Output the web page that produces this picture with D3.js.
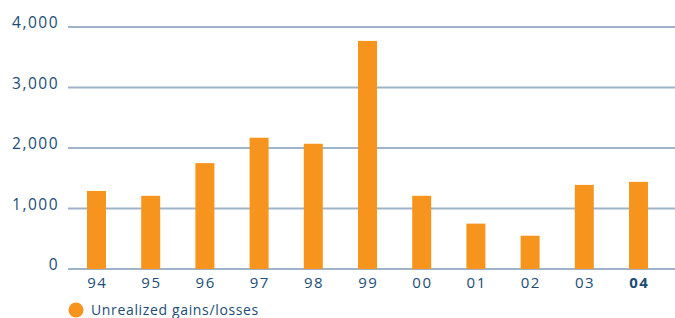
<!DOCTYPE html>
<html>
<head>
<meta charset="utf-8">
<script src="https://cdn.jsdelivr.net/npm/d3@7"></script>
<style>
  html, body { margin: 0; padding: 0; background: #fff; }
  svg { display: block; }
  text { font-family: "Open Sans", "DejaVu Sans", sans-serif; fill: #214c76; }
</style>
</head>
<body>
<svg id="chart" width="675" height="318"></svg>
<script>
const categories = ["94", "95", "96", "97", "98", "99", "00", "01", "02", "03", "04"];
const unrealizedGains = [1290, 1210, 1750, 2170, 2070, 3770, 1210, 750, 550, 1390, 1440];
const yTicks = [0, 1000, 2000, 3000, 4000];
const seriesName = "Unrealized gains/losses";

const svg = d3.select("#chart");
const W = 675;

const y = d3.scaleLinear().domain([0, 4000]).range([269, 27]);
const x = d3.scaleBand().domain(categories)
  .range([69.4, 69.4 + 11 * 54.2])
  .paddingInner(0.65).paddingOuter(0.325);

// gridlines
svg.append("g").selectAll("line").data(yTicks).join("line")
  .attr("x1", 68).attr("x2", W)
  .attr("y1", d => y(d)).attr("y2", d => y(d))
  .attr("stroke", "#9fb4ca").attr("stroke-width", 2);

// y labels
svg.append("g").selectAll("text").data(yTicks).join("text")
  .attr("x", 59).attr("y", d => y(d) + 1)
  .attr("text-anchor", "end")
  .attr("font-size", 15.5)
  .attr("letter-spacing", 1.5)
  .text(d => d3.format(",")(d));

// bars
svg.append("g").selectAll("rect").data(categories).join("rect")
  .attr("x", d => x(d))
  .attr("width", x.bandwidth())
  .attr("y", (d, i) => y(unrealizedGains[i]))
  .attr("height", (d, i) => y(0) - y(unrealizedGains[i]))
  .attr("fill", "#f7941d");

// x labels
svg.append("g").selectAll("text").data(categories).join("text")
  .attr("x", d => x(d) + x.bandwidth() / 2 + 0.75)
  .attr("y", 288)
  .attr("text-anchor", "middle")
  .attr("font-size", 15)
  .attr("letter-spacing", 1.5)
  .attr("font-weight", (d, i) => i === categories.length - 1 ? "bold" : "normal")
  .text(d => d);

// legend
svg.append("circle").attr("cx", 76).attr("cy", 310).attr("r", 7.5).attr("fill", "#f7941d");
svg.append("text").attr("x", 91).attr("y", 315)
  .attr("font-size", 14).attr("letter-spacing", 0.65)
  .text(seriesName);
</script>
</body>
</html>
